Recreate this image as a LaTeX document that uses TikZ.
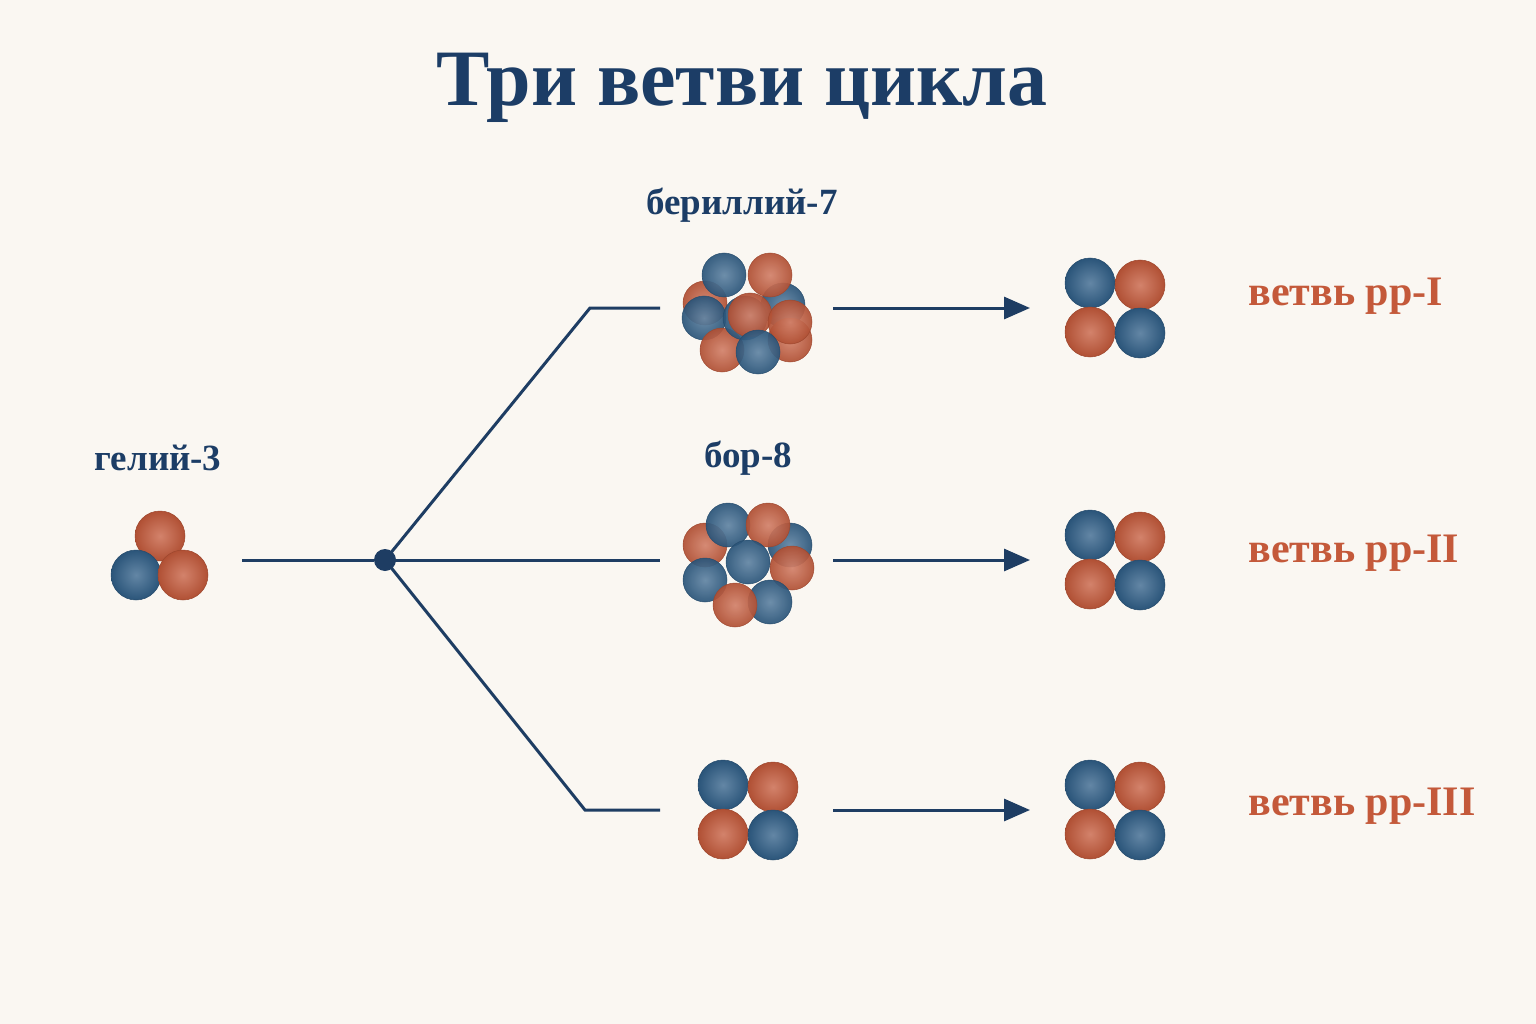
\documentclass[tikz,border=0pt]{standalone}
\usepackage{fontspec}
\setmainfont{Liberation Serif}
\usetikzlibrary{arrows.meta}
\definecolor{bg}{HTML}{FAF7F2}
\definecolor{nb}{HTML}{2F5E87}
\definecolor{nr}{HTML}{C4593A}
\definecolor{ln}{HTML}{1E3D63}
\definecolor{tx}{HTML}{1C3D66}
\tikzset{
 sph/.style={circle,inner sep=0pt,shading=radial,line width=0.5pt},
 B/.style={sph,minimum size=50pt,inner color=nb!75!white,outer color=nb!90!black,draw=nb!80!black},
 R/.style={sph,minimum size=50pt,inner color=nr!75!white,outer color=nr!90!black,draw=nr!80!black},
 b/.style={B,minimum size=44pt,opacity=0.93},
 r/.style={R,minimum size=44pt,opacity=0.93},
 conn/.style={ln,line width=3pt},
 arr/.style={ln,line width=3pt,-{Triangle[length=26pt,width=22pt]}},
 lab/.style={text=tx,font=\bfseries\fontsize{37}{37}\selectfont},
 br/.style={text=nr,font=\bfseries\fontsize{42}{42}\selectfont,anchor=west}
}
\begin{document}
\begin{tikzpicture}[x=1pt,y=-1pt]
\fill[bg] (0,0) rectangle (1536,1024);
\useasboundingbox (0,0) rectangle (1536,1024);
\node[text=tx,font=\bfseries\fontsize{80}{80}\selectfont] (title) at (742,88) {Три ветви цикла};
\node[lab] (he) at (158,458) {гелий-3};
\node[lab] (be) at (742,205) {бериллий-7};
\node[lab] (bo) at (748,458) {бор-8};
% helium-3
\node[R] at (160,536) {};\node[B] at (136,575) {};\node[R] at (183,575) {};
\newcommand{\alphap}[2]{%
\node[B] at (#1-25,#2-25) {};\node[R] at (#1+25,#2-23) {};
\node[R] at (#1-25,#2+24) {};\node[B] at (#1+25,#2+25) {};}
\alphap{1115}{308}\alphap{1115}{560}\alphap{1115}{810}\alphap{748}{810}
% be-7
\node[r] at (705,303) {};\node[b] at (783,305) {};\node[r] at (790,340) {};
\node[b] at (724,275) {};\node[r] at (770,275) {};\node[b] at (704,318) {};
\node[r] at (722,350) {};\node[b] at (745,318) {};\node[r] at (750,315) {};
\node[r] at (790,322) {};\node[b] at (758,352) {};
% b-8
\node[b] at (790,545) {};\node[r] at (705,545) {};\node[b] at (728,525) {};
\node[r] at (768,525) {};\node[b] at (705,580) {};\node[r] at (792,568) {};
\node[b] at (770,602) {};\node[r] at (735,605) {};\node[b] at (748,562) {};
% connectors
\node[circle,fill=ln,minimum size=22pt,inner sep=0pt] (hub) at (385,560) {};
\coordinate (s) at (242,560);
\coordinate (t1) at (660,308);\coordinate (t2) at (660,560);\coordinate (t3) at (660,810);
\draw[conn] (s) -- (hub);
\draw[conn] (hub.center) -- (590,308) -- (t1);
\draw[conn] (hub.center) -- (t2);
\draw[conn] (hub.center) -- (585,810) -- (t3);
\foreach \y/\n in {308/a,560/b,810/c}{
 \coordinate (f\n) at (833,\y);\coordinate (g\n) at (1030,\y);
 \draw[arr] (f\n) -- (g\n);}
\node[br] (p1) at (1245,296) {ветвь pp-I};
\node[br] (p2) at (1245,553) {ветвь pp-II};
\node[br] (p3) at (1245,806) {ветвь pp-III};
\end{tikzpicture}
\end{document}
